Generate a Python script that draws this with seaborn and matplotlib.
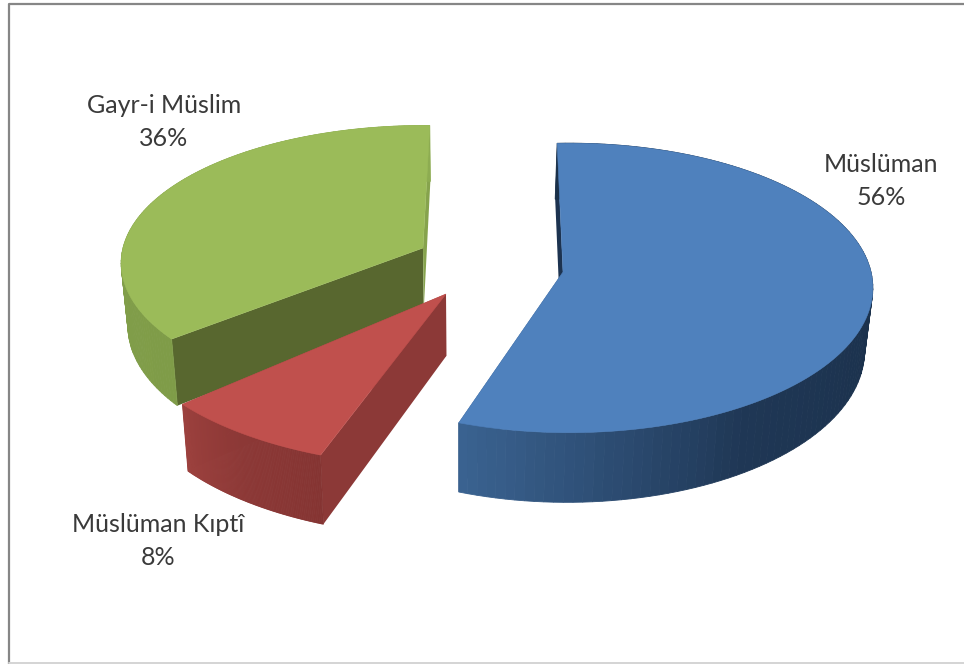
import numpy as np
import matplotlib
matplotlib.use("Agg")
import matplotlib.pyplot as plt
import seaborn as sns

# values, in clockwise order from the top
slice_names = ['Müslüman', 'Müslüman Kıptî', 'Gayr-i Müslim']
slice_shares = [56, 8, 36]

top_colors = ['#4f81bd', '#c0504d', '#9bbb59']
# rim colours going clockwise along each slice
rim_colors = [['#1a3049', '#1a3049', '#1b314c', '#1f3755', '#3a6290'],
              ['#853432', '#8c3836', '#9c413e'],
              ['#7f9c48', '#83a04b', '#8dac51']]
first_face_colors = ['#1d3350', '#8c3937', '#58672f']
last_face_colors = ['#1d3350', '#8c3937', '#86a34d']

# layout of each exploded slice: apex, rim centre shift, radii, turn (deg)
apex_x = [563, 446, 423]
apex_y = [272, 294, 248]
rim_shift_x = [6, -2, 2]
rim_shift_y = [0, 4, 0]
radius_x = [302, 322, 302]
radius_y = [143, 150, 136]
turn = [-2.5, -1.5, 1.0]
label_x = [881, 158, 164]
label_y = [181, 541, 122]

PERSPECTIVE = 0.11
DEPTH = 62
VANISH_X = 460


def rim_point(i, t):
    w = 1 + PERSPECTIVE * np.cos(t)
    x = apex_x[i] + rim_shift_x[i] + radius_x[i] * np.sin(t) / w
    y = apex_y[i] + rim_shift_y[i] - radius_y[i] * np.cos(t) / w
    return x, y


def lower(x, y, w=1.0):
    return x + (VANISH_X - x) * 0.02, y + DEPTH / w


def draw_slice(ax, i, t0, t1, z):
    ts = np.linspace(t0, t1, 121)
    xs, ys = rim_point(i, ts)
    ws = 1 + PERSPECTIVE * np.cos(ts)
    lx, ly = lower(xs, ys, ws)
    ax_, ay_ = apex_x[i], apex_y[i]
    bx, by = lower(ax_, ay_)

    # the two flat cut faces
    ax.fill([ax_, xs[0], lx[0], bx], [ay_, ys[0], ly[0], by],
            color=first_face_colors[i], lw=0, zorder=z)
    ax.fill([ax_, xs[-1], lx[-1], bx], [ay_, ys[-1], ly[-1], by],
            color=last_face_colors[i], lw=0, zorder=z)

    # outer wall, shaded strip by strip
    shades = sns.blend_palette(rim_colors[i], len(ts) - 1)
    for j in range(len(ts) - 1):
        ax.fill([xs[j], xs[j + 1], lx[j + 1], lx[j]],
                [ys[j], ys[j + 1], ly[j + 1], ly[j]],
                color=shades[j], lw=0.6, zorder=z + 1)

    # top
    ax.fill(np.r_[ax_, xs], np.r_[ay_, ys], color=top_colors[i], lw=0.4, zorder=z + 2)


sns.set_theme(style="white")
plt.rcParams['font.family'] = ['Lato', 'DejaVu Sans']

fig = plt.figure(figsize=(9.64, 6.64), dpi=100)
ax = fig.add_axes([0, 0, 1, 1])
ax.set_xlim(0, 964)
ax.set_ylim(664, 0)
ax.axis('off')

# chart frame
ax.plot([964, 8.5, 8.5], [3.5, 3.5, 664], color='#868686', lw=1.6, zorder=1)
ax.plot([8.5, 964], [663, 663], color='#d4d4d4', lw=1.4, zorder=1)

edges = np.radians(np.cumsum([0] + slice_shares) * 3.6)
draw_order = [2, 0, 1]
for n, i in enumerate(draw_order):
    t0 = edges[i] + np.radians(turn[i])
    t1 = edges[i + 1] + np.radians(turn[i])
    draw_slice(ax, i, t0, t1, 2 + n * 3)

for i, name in enumerate(slice_names):
    ax.text(label_x[i], label_y[i], f"{name}\n{slice_shares[i]}%", ha='center', va='center',
            fontsize=18, color='#3a3a3a', linespacing=1.5, zorder=20)

fig.savefig('out.png', dpi=100, facecolor='white')
